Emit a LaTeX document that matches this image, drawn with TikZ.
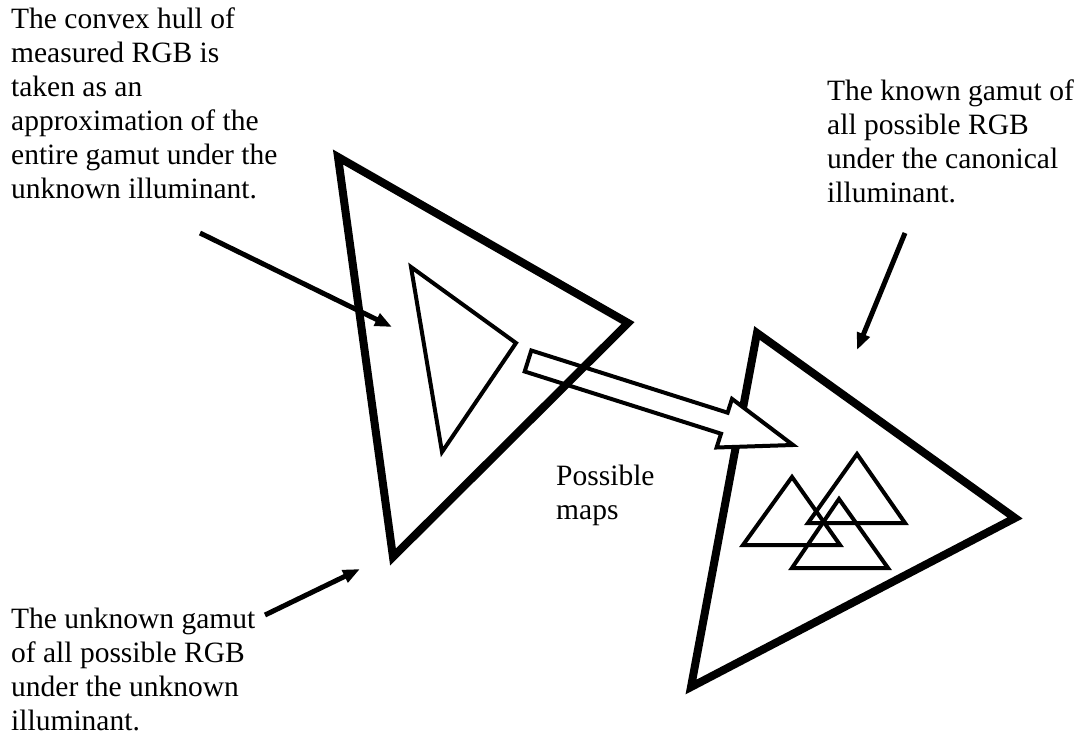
\documentclass[tikz,border=0pt]{standalone}
\usepackage{fontspec}
\setmainfont{Liberation Serif}
\usetikzlibrary{arrows.meta}
\begin{document}
\begin{tikzpicture}[x=1pt,y=-1pt,
  lbl/.style={anchor=north west,inner sep=0pt,align=left,font=\fontsize{29.5}{34}\selectfont},
  gamut/.style={line width=8pt,line join=miter},
  thintri/.style={line width=4pt,line join=miter},
  pointer/.style={line width=5pt,-{Triangle[length=17pt,width=13pt]}},
  blockarrow/.style={line width=4pt,line join=miter,fill=white}]
\useasboundingbox (0,0) rectangle (1081,735);

% texts
\node[lbl] (tconvex) at (11,8) {The convex hull of\\measured RGB is\\taken as an\\approximation of the\\entire gamut under the\\unknown illuminant.};
\node[lbl] (tknown) at (827,80) {The known gamut of\\all possible RGB\\under the canonical\\illuminant.};
\node[lbl] (tunknown) at (11,608) {The unknown gamut\\of all possible RGB\\under the unknown\\illuminant.};
\node[lbl] (tmaps) at (556,465) {Possible\\maps};

% right gamut (canonical)
\coordinate (R1) at (757,333);
\coordinate (R2) at (1015,518);
\coordinate (R3) at (691,687);
\draw[gamut] (R1) -- (R2) -- (R3) -- cycle;

% small mapped triangles
\coordinate (A1) at (792,477); \coordinate (A2) at (840,545); \coordinate (A3) at (743,545);
\coordinate (B1) at (857,454); \coordinate (B2) at (905,523); \coordinate (B3) at (808,523);
\coordinate (C1) at (839,499); \coordinate (C2) at (888,568); \coordinate (C3) at (792,568);
\draw[thintri] (A1) -- (A2) -- (A3) -- cycle;
\draw[thintri] (B1) -- (B2) -- (B3) -- cycle;
\draw[thintri] (C1) -- (C2) -- (C3) -- cycle;

% block arrow (possible maps)
\coordinate (M1) at (531.3,350.5);
\coordinate (M2) at (727.6,412.7);
\coordinate (M3) at (732,398.9);
\coordinate (M4) at (793,445);
\coordinate (M5) at (716.6,447.5);
\coordinate (M6) at (721,433.7);
\coordinate (M7) at (524.7,371.5);
\draw[blockarrow] (M1) -- (M2) -- (M3) -- (M4) -- (M5) -- (M6) -- (M7) -- cycle;

% left gamut (unknown)
\coordinate (L1) at (338,157);
\coordinate (L2) at (628,323);
\coordinate (L3) at (393,557);
\draw[gamut] (L1) -- (L2) -- (L3) -- cycle;

% convex hull of measured RGB
\coordinate (H1) at (411,267);
\coordinate (H2) at (516,343);
\coordinate (H3) at (442,452);
\draw[thintri] (H1) -- (H2) -- (H3) -- cycle;

% pointers
\coordinate (p1s) at (200,233);
\coordinate (p1e) at (392,327);
\draw[pointer] (p1s) -- (p1e);
\coordinate (p2s) at (265,615);
\coordinate (p2e) at (360,569);
\draw[pointer] (p2s) -- (p2e);
\coordinate (p3s) at (905,233);
\coordinate (p3e) at (857,350);
\draw[pointer] (p3s) -- (p3e);
\end{tikzpicture}
\end{document}
